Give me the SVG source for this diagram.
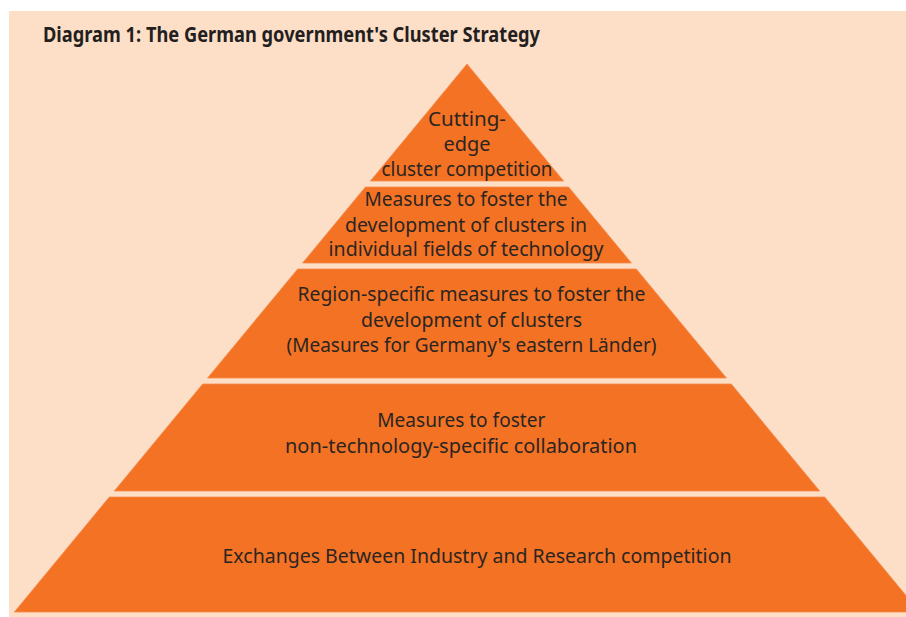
<svg xmlns="http://www.w3.org/2000/svg" width="906" height="617" viewBox="0 0 906 617">
<style>
.layer{fill:#F37224;stroke:#F68A4C;stroke-width:0.8}
.t{font-family:"Noto Sans","Open Sans","Liberation Sans",sans-serif;font-size:20px;fill:#2B2522;text-anchor:middle}
.title{font-family:"Noto Sans","Liberation Sans",sans-serif;font-size:21px;font-weight:bold;fill:#231F20}
</style>
<rect x="0" y="0" width="906" height="617" fill="#FFFFFF"/>
<rect x="9" y="11" width="897" height="606" fill="#FDDEC7"/>
<text class="title" x="43" y="41.5" textLength="497" lengthAdjust="spacingAndGlyphs">Diagram 1: The German government's Cluster Strategy</text>
<g id="layer1">
<polygon class="layer" points="467,64 563.6,181 370.4,181"/>
<text class="t" x="467" y="126" textLength="78" lengthAdjust="spacingAndGlyphs">Cutting-</text>
<text class="t" x="467" y="151" textLength="47" lengthAdjust="spacingAndGlyphs">edge</text>
<text class="t" x="467" y="176" textLength="171" lengthAdjust="spacingAndGlyphs">cluster competition</text>
</g>
<g id="layer2">
<polygon class="layer" points="365.4,187 568.6,187 631.4,263 302.6,263"/>
<text class="t" x="466" y="206" textLength="203" lengthAdjust="spacingAndGlyphs">Measures to foster the</text>
<text class="t" x="466" y="231.5" textLength="242" lengthAdjust="spacingAndGlyphs">development of clusters in</text>
<text class="t" x="466" y="256" textLength="275" lengthAdjust="spacingAndGlyphs">individual fields of technology</text>
</g>
<g id="layer3">
<polygon class="layer" points="297.7,269 636.3,269 726.4,378 207.6,378"/>
<text class="t" x="471.5" y="301" textLength="348" lengthAdjust="spacingAndGlyphs">Region-specific measures to foster the</text>
<text class="t" x="471.5" y="326.5" textLength="221" lengthAdjust="spacingAndGlyphs">development of clusters</text>
<text class="t" x="471.5" y="352" textLength="370" lengthAdjust="spacingAndGlyphs">(Measures for Germany's eastern Länder)</text>
</g>
<g id="layer4">
<polygon class="layer" points="202.7,384 731.3,384 819.7,491 114.3,491"/>
<text class="t" x="461.3" y="427" textLength="168" lengthAdjust="spacingAndGlyphs">Measures to foster</text>
<text class="t" x="461" y="453" textLength="352" lengthAdjust="spacingAndGlyphs">non-technology-specific collaboration</text>
</g>
<g id="layer5">
<polygon class="layer" points="109.3,497 824.7,497 919.6,612 14.4,612"/>
<text class="t" x="477" y="563" textLength="509" lengthAdjust="spacingAndGlyphs">Exchanges Between Industry and Research competition</text>
</g>
<g id="connectors"/>
</svg>
